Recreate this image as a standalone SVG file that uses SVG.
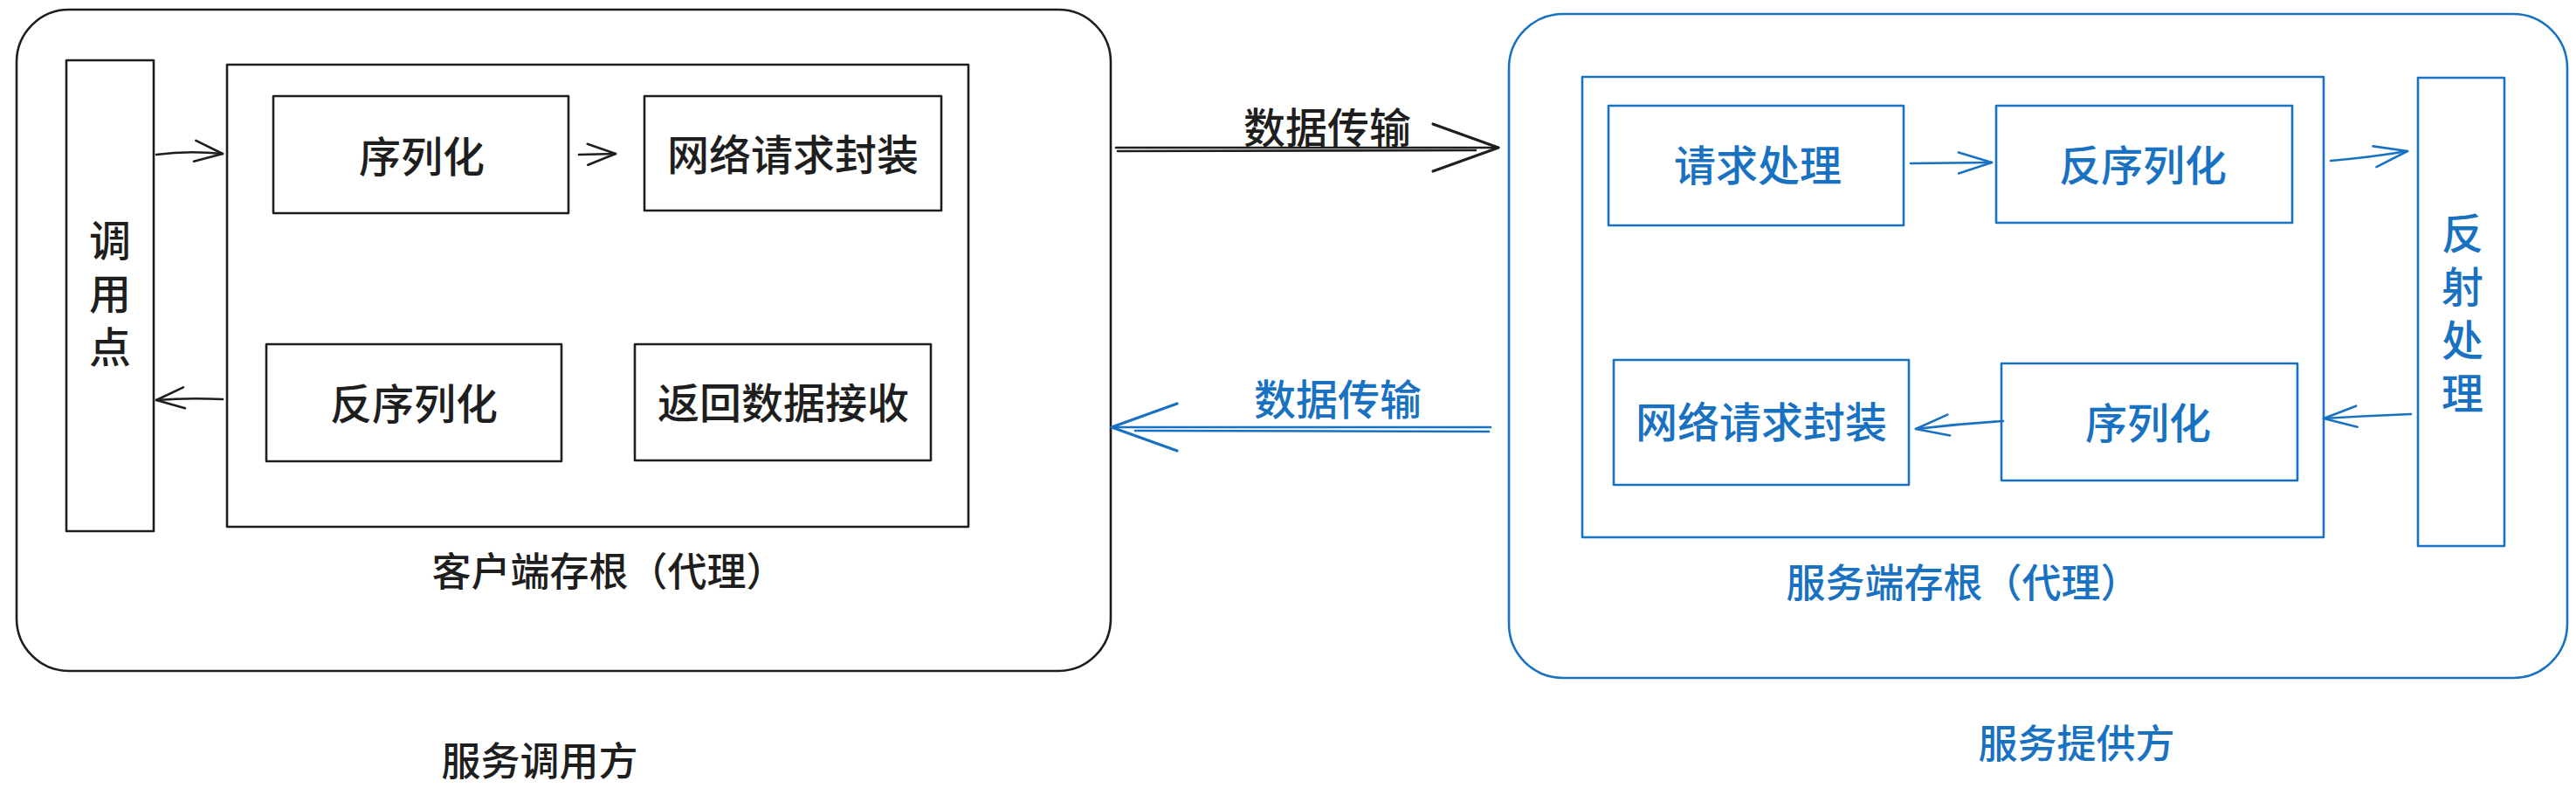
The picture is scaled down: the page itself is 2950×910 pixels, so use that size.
<svg xmlns="http://www.w3.org/2000/svg" width="2950" height="910" viewBox="0 0 2950 910">
<style>
  .k { fill: none; stroke: #1e1e1e; stroke-width: 2.6; stroke-linecap: round; stroke-linejoin: round; }
  .b { fill: none; stroke: #1971c2; stroke-width: 2.6; stroke-linecap: round; stroke-linejoin: round; }
  .tk { fill: #1e1e1e; font-family: "Noto Sans CJK SC", "Noto Sans", sans-serif; font-size: 48px; font-weight: 500; text-anchor: middle; dominant-baseline: central; }
  .tb { fill: #1971c2; font-family: "Noto Sans CJK SC", "Noto Sans", sans-serif; font-size: 48px; font-weight: 500; text-anchor: middle; dominant-baseline: central; }
  .lbl { font-size: 45px; }
  .vert { writing-mode: vertical-rl; letter-spacing: 13px; }
</style>
<defs>
  <marker id="sk" viewBox="-36 -16 40 32" markerWidth="40" markerHeight="32" refX="0" refY="0" markerUnits="userSpaceOnUse" orient="auto">
    <path d="M -32 -12 L 0 0 L -32 12" fill="none" stroke="#1e1e1e" stroke-width="2.6" stroke-linecap="round" stroke-linejoin="round"/>
  </marker>
  <marker id="sb" viewBox="-40 -16 44 32" markerWidth="44" markerHeight="32" refX="0" refY="0" markerUnits="userSpaceOnUse" orient="auto">
    <path d="M -38 -12 L 0 0 L -38 12" fill="none" stroke="#1971c2" stroke-width="2.6" stroke-linecap="round" stroke-linejoin="round"/>
  </marker>
  <marker id="bk" viewBox="-80 -32 84 64" markerWidth="84" markerHeight="64" refX="0" refY="0" markerUnits="userSpaceOnUse" orient="auto">
    <path d="M -75 -27 L 0 0 L -75 27" fill="none" stroke="#1e1e1e" stroke-width="3.2" stroke-linecap="round" stroke-linejoin="round"/>
  </marker>
  <marker id="bb" viewBox="-80 -32 84 64" markerWidth="84" markerHeight="64" refX="0" refY="0" markerUnits="userSpaceOnUse" orient="auto">
    <path d="M -75 -27 L 0 0 L -75 27" fill="none" stroke="#1971c2" stroke-width="3.2" stroke-linecap="round" stroke-linejoin="round"/>
  </marker>
</defs>
<rect width="2950" height="910" fill="#ffffff"/>

<!-- Client side -->
<g id="client-outer">
  <rect class="k" x="19" y="11" width="1253" height="757" rx="60"/>
</g>
<g id="client-stub">
  <rect class="k" x="260" y="74" width="849" height="529"/>
  <text class="tk lbl" x="697" y="651">客户端存根（代理）</text>
</g>
<g id="call-point">
  <rect class="k" x="76" y="69" width="100" height="539"/>
  <text class="tk vert" x="126" y="342">调用点</text>
</g>
<g id="c-serialize">
  <rect class="k" x="313" y="110" width="338" height="134"/>
  <text class="tk" x="483" y="176">序列化</text>
</g>
<g id="c-net-pack">
  <rect class="k" x="738" y="110" width="340" height="131"/>
  <text class="tk" x="908" y="174">网络请求封装</text>
</g>
<g id="c-deserialize">
  <rect class="k" x="305" y="394" width="338" height="134"/>
  <text class="tk" x="474" y="459">反序列化</text>
</g>
<g id="c-receive">
  <rect class="k" x="727" y="394" width="339" height="133"/>
  <text class="tk" x="897" y="458">返回数据接收</text>
</g>
<g id="client-caption">
  <text class="tk lbl" x="618" y="868">服务调用方</text>
</g>

<!-- Server side -->
<g id="server-outer">
  <rect class="b" x="1728" y="16" width="1212" height="760" rx="62"/>
</g>
<g id="server-stub">
  <rect class="b" x="1812" y="88" width="849" height="527"/>
  <text class="tb lbl" x="2248" y="664">服务端存根（代理）</text>
</g>
<g id="s-request">
  <rect class="b" x="1842" y="121" width="338" height="137"/>
  <text class="tb" x="2013" y="186">请求处理</text>
</g>
<g id="s-deserialize">
  <rect class="b" x="2286" y="121" width="339" height="134"/>
  <text class="tb" x="2454" y="186">反序列化</text>
</g>
<g id="s-net-pack">
  <rect class="b" x="1848" y="412" width="338" height="143"/>
  <text class="tb" x="2017" y="480">网络请求封装</text>
</g>
<g id="s-serialize">
  <rect class="b" x="2292" y="416" width="339" height="134"/>
  <text class="tb" x="2460" y="481">序列化</text>
</g>
<g id="reflection">
  <rect class="b" x="2769" y="89" width="99" height="536"/>
  <text class="tb vert" x="2820" y="365">反射处理</text>
</g>
<g id="server-caption">
  <text class="tb lbl" x="2378" y="848">服务提供方</text>
</g>

<!-- Connectors -->
<g id="connectors">
  <path class="k" d="M 179 177 Q 215 172 255 176" marker-end="url(#sk)"/>
  <path class="k" d="M 663 177 L 705 176" marker-end="url(#sk)"/>
  <path class="k" d="M 255 457 Q 215 455 179 458" marker-end="url(#sk)"/>
  <path class="k" d="M 1278 169 L 1716 169" stroke-width="3.4" marker-end="url(#bk)"/>
  <path class="k" d="M 1280 173 L 1690 172" stroke-width="1.5"/>
  <text class="tk" x="1520" y="143">数据传输</text>
  <path class="b" d="M 1707 489 L 1273 489" stroke-width="3.4" marker-end="url(#bb)"/>
  <path class="b" d="M 1705 494 L 1300 493" stroke-width="1.5"/>
  <text class="tb" x="1532" y="454">数据传输</text>
  <path class="b" d="M 2188 187 L 2281 186" marker-end="url(#sb)"/>
  <path class="b" d="M 2669 184 Q 2715 180 2757 173" marker-end="url(#sb)"/>
  <path class="b" d="M 2761 474 Q 2710 476 2661 479" marker-end="url(#sb)"/>
  <path class="b" d="M 2294 482 Q 2245 485 2194 491" marker-end="url(#sb)"/>
</g>
</svg>
